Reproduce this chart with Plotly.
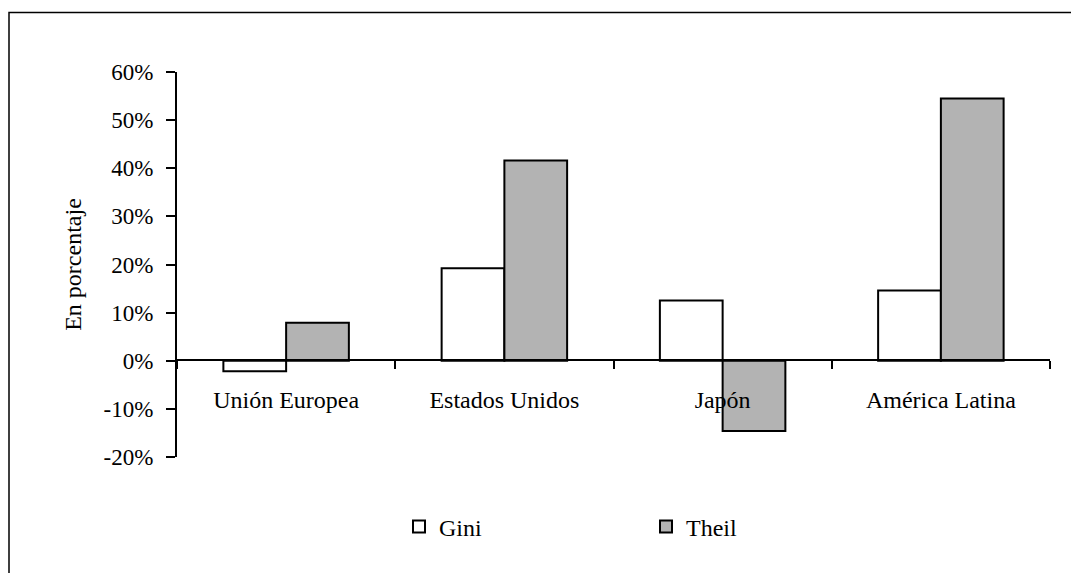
import plotly.graph_objects as go

categories = ["Unión Europea", "Estados Unidos", "Japón", "América Latina"]
gini = [-0.022, 0.192, 0.125, 0.146]
theil = [0.079, 0.416, -0.146, 0.545]
ytick_vals = [-0.2, -0.1, 0.0, 0.1, 0.2, 0.3, 0.4, 0.5, 0.6]
ytick_text = ["-20%", "-10%", "0%", "10%", "20%", "30%", "40%", "50%", "60%"]

# The page body has an 8px margin, so the figure starts at (8, 8) on the page.
OFF = 8
W, H = 1079 - OFF, 573 - OFF
PL, PR, PT, PB = 177, 1050, 72, 457          # plot area in page pixels
ML, MR, MT, MB = PL - OFF, (W + OFF) - PR, PT - OFF, (H + OFF) - PB
PW, PH = PR - PL, PB - PT


def px_x(px):
    return (px - PL) / PW


def px_y(py):
    return (PB - py) / PH


FONT = "Liberation Serif"

fig = go.Figure()
fig.add_trace(go.Bar(
    x=categories, y=gini, name="Gini",
    marker=dict(color="white", line=dict(color="black", width=2)),
))
fig.add_trace(go.Bar(
    x=categories, y=theil, name="Theil",
    marker=dict(color="#b3b3b3", line=dict(color="black", width=2)),
))

fig.update_layout(
    width=W, height=H,
    margin=dict(l=ML, r=MR, t=MT, b=MB, autoexpand=False),
    paper_bgcolor="white", plot_bgcolor="white",
    font=dict(family=FONT, size=23, color="black"),
    barmode="group", bargap=0.425, bargroupgap=0,
    showlegend=True,
    legend=dict(
        orientation="h", x=px_x(399), xanchor="left",
        y=px_y(527), yanchor="middle",
        entrywidth=202, entrywidthmode="pixels",
        font=dict(family=FONT, size=24, color="black"),
        bgcolor="rgba(0,0,0,0)",
    ),
    shapes=[dict(
        type="rect", xref="paper", yref="paper",
        x0=px_x(9), x1=px_x(1095), y0=px_y(600), y1=px_y(12.5),
        line=dict(color="black", width=1.5), fillcolor="rgba(0,0,0,0)",
        layer="below",
    )],
)

fig.update_xaxes(
    anchor="free", position=px_y(360),
    showline=True, linecolor="black", linewidth=1.5,
    ticks="outside", tickson="boundaries", ticklen=8, tickwidth=1.5, tickcolor="black",
    showgrid=False, zeroline=False,
    ticklabelstandoff=18,
    tickfont=dict(family=FONT, size=24, color="black"),
)
fig.update_yaxes(
    range=[-0.2, 0.6],
    tickvals=ytick_vals, ticktext=ytick_text,
    showline=True, linecolor="black", linewidth=2,
    ticks="outside", ticklen=9, tickwidth=2, tickcolor="black",
    showgrid=False, zeroline=False,
    ticklabelstandoff=8,
    tickfont=dict(family=FONT, size=23, color="black"),
    title=dict(text="En porcentaje", font=dict(family=FONT, size=24, color="black"), standoff=15),
)

fig.write_html("out.html")
